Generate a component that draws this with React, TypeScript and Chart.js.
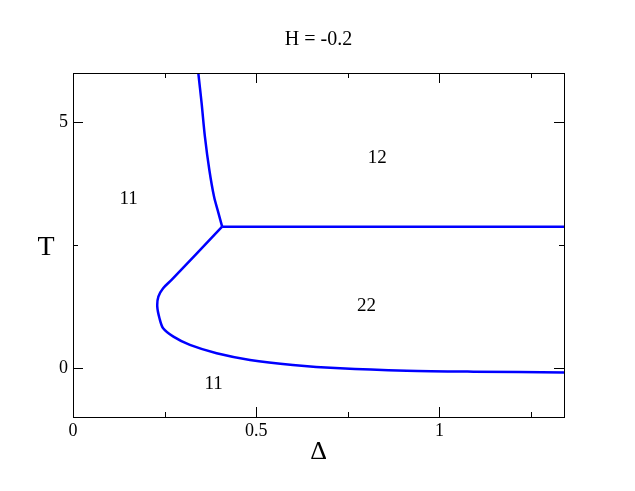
import React, { useEffect, useRef } from "react";
import { Chart, registerables } from "chart.js";

Chart.register(...registerables);

// Upper boundary (11 | 12)
const upperDelta = [0.342, 0.351, 0.360, 0.372, 0.385, 0.397, 0.407];
const upperT = [6.0, 5.385, 4.705, 4.03, 3.48, 3.15, 2.873];
// Horizontal boundary (12 | 22)
const flatDelta = [0.407, 1.34];
const flatT = [2.873, 2.873];
// Lower boundary (11 | 22)
const lowerDelta = [0.407, 0.269, 0.246, 0.233, 0.230, 0.236, 0.246, 0.274, 0.319, 0.392, 0.483, 0.600, 0.729, 0.911, 1.093, 1.34];
const lowerT = [2.873, 1.79, 1.62, 1.45, 1.245, 1.01, 0.806, 0.635, 0.466, 0.297, 0.161, 0.06, -0.008, -0.057, -0.077, -0.092];

const xTickValues = [0, 0.5, 1];
const xMinorTicks = [0.25, 0.75, 1.25];
const yTickValues = [0, 5];
const yMinorTicks = [2.5];

const regionLabels = ["11", "12", "22", "11"];
const regionDelta = [0.152, 0.83, 0.801, 0.384];
const regionT = [3.43, 4.27, 1.26, -0.33];

const titleText = "H = -0.2";
const xTitle = "Δ";
const yTitle = "T";

const FONT = "'Liberation Serif', 'Times New Roman', serif";

const toPts = (xs: number[], ys: number[]) => xs.map((x, i) => ({ x, y: ys[i] }));

const decorPlugin = {
  id: "decor",
  afterDatasetsDraw(chart: any) {
    const { ctx, chartArea: a, scales } = chart;
    const xs = scales.x;
    const ys = scales.y;
    ctx.save();
    ctx.strokeStyle = "#000";
    ctx.lineWidth = 1;
    ctx.strokeRect(Math.round(a.left) + 0.5, Math.round(a.top) + 0.5, Math.round(a.right - a.left), Math.round(a.bottom - a.top));
    const major = 10;
    const minor = 5;
    const drawX = (v: number, len: number) => {
      const p = Math.round(xs.getPixelForValue(v)) + 0.5;
      ctx.beginPath();
      ctx.moveTo(p, a.bottom);
      ctx.lineTo(p, a.bottom - len);
      ctx.moveTo(p, a.top);
      ctx.lineTo(p, a.top + len);
      ctx.stroke();
    };
    const drawY = (v: number, len: number) => {
      const p = Math.round(ys.getPixelForValue(v)) + 0.5;
      ctx.beginPath();
      ctx.moveTo(a.left, p);
      ctx.lineTo(a.left + len, p);
      ctx.moveTo(a.right, p);
      ctx.lineTo(a.right - len, p);
      ctx.stroke();
    };
    xTickValues.forEach((v) => drawX(v, major));
    xMinorTicks.forEach((v) => drawX(v, minor));
    yTickValues.forEach((v) => drawY(v, major));
    yMinorTicks.forEach((v) => drawY(v, minor));

    ctx.fillStyle = "#000";
    ctx.textAlign = "center";
    ctx.textBaseline = "middle";
    ctx.font = `19px ${FONT}`;
    regionLabels.forEach((t, i) => {
      ctx.fillText(t, xs.getPixelForValue(regionDelta[i]), ys.getPixelForValue(regionT[i]));
    });

    ctx.textBaseline = "alphabetic";
    ctx.font = `20px ${FONT}`;
    ctx.fillText(titleText, (a.left + a.right) / 2, 45);
    ctx.font = `26px ${FONT}`;
    ctx.fillText(xTitle, (a.left + a.right) / 2, 459);
    ctx.font = `28px ${FONT}`;
    ctx.fillText(yTitle, 46, 255);
    ctx.restore();
  },
};

export default function App() {
  const ref = useRef<HTMLCanvasElement | null>(null);
  useEffect(() => {
    if (!ref.current) return;
    const lineStyle = {
      showLine: true,
      borderColor: "#0000ff",
      backgroundColor: "#0000ff",
      borderWidth: 2.5,
      pointRadius: 0,
      fill: false,
    };
    const chart = new Chart(ref.current, {
      type: "scatter",
      data: {
        datasets: [
          { label: "upper", data: toPts(upperDelta, upperT), ...lineStyle, tension: 0.3 },
          { label: "flat", data: toPts(flatDelta, flatT), ...lineStyle, tension: 0 },
          { label: "lower", data: toPts(lowerDelta, lowerT), ...lineStyle, tension: 0.3 },
        ],
      },
      options: {
        animation: false,
        responsive: false,
        layout: { padding: { left: 0, right: 71, top: 73, bottom: 0 } },
        plugins: {
          legend: { display: false },
          title: { display: false },
          tooltip: { enabled: false },
        },
        scales: {
          x: {
            type: "linear",
            min: 0,
            max: 1.34,
            grid: { display: false, drawTicks: false },
            border: { display: false },
            afterFit: (s: any) => {
              s.height = 74;
            },
            afterBuildTicks: (s: any) => {
              s.ticks = xTickValues.map((v) => ({ value: v }));
            },
            ticks: {
              padding: 3,
              color: "#000",
              font: { family: FONT, size: 18 },
              maxRotation: 0,
              callback: (v: any) => String(v),
            },
          },
          y: {
            type: "linear",
            min: -1,
            max: 6,
            grid: { display: false, drawTicks: false },
            border: { display: false },
            afterFit: (s: any) => {
              s.width = 73;
            },
            afterBuildTicks: (s: any) => {
              s.ticks = yTickValues.map((v) => ({ value: v }));
            },
            ticks: {
              padding: 5,
              color: "#000",
              font: { family: FONT, size: 18 },
              callback: (v: any) => String(v),
            },
          },
        },
      },
      plugins: [decorPlugin],
    });
    return () => chart.destroy();
  }, []);
  return (
    <div style={{ position: "absolute", left: 0, top: 0, width: 635, height: 491, background: "#fff" }}>
      <canvas ref={ref} width={635} height={491} style={{ display: "block" }} />
    </div>
  );
}
